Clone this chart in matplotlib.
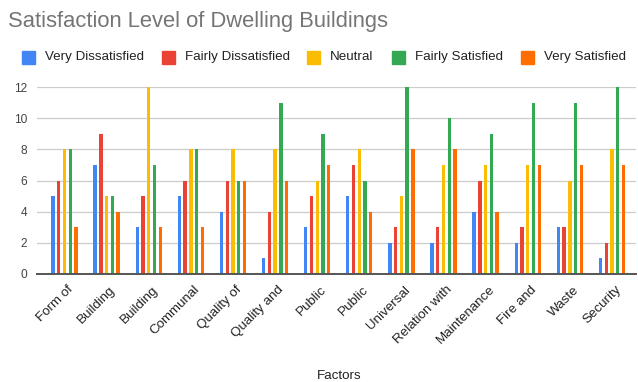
import matplotlib
matplotlib.use("Agg")
import matplotlib.pyplot as plt
from matplotlib.patches import Rectangle
from matplotlib.transforms import ScaledTranslation
import numpy as np

plt.rcParams['font.family'] = ['Liberation Sans', 'DejaVu Sans']

categories = ["Form of", "Building", "Building", "Communal", "Quality of", "Quality and",
              "Public", "Public", "Universal", "Relation with", "Maintenance", "Fire and",
              "Waste", "Security"]
series_names = ["Very Dissatisfied", "Fairly Dissatisfied", "Neutral", "Fairly Satisfied", "Very Satisfied"]
very_dissatisfied = [5, 7, 3, 5, 4, 1, 3, 5, 2, 2, 4, 2, 3, 1]
fairly_dissatisfied = [6, 9, 5, 6, 6, 4, 5, 7, 3, 3, 6, 3, 3, 2]
neutral = [8, 5, 12, 8, 8, 8, 6, 8, 5, 7, 7, 7, 6, 8]
fairly_satisfied = [8, 5, 7, 8, 6, 11, 9, 6, 12, 10, 9, 11, 11, 12]
very_satisfied = [3, 4, 3, 3, 6, 6, 7, 4, 8, 8, 4, 7, 7, 7]
y_ticks = [0, 2, 4, 6, 8, 10, 12]

series = [very_dissatisfied, fairly_dissatisfied, neutral, fairly_satisfied, very_satisfied]
colors = ["#4285F4", "#EA4335", "#FBBC04", "#34A853", "#FF6D01"]

W, H = 638, 382
fig = plt.figure(figsize=(W / 100, H / 100), dpi=100)
ax = fig.add_axes([37 / W, (H - 274) / H, (636 - 37) / W, (274 - 87) / H])

x = np.arange(len(categories))
step = 0.1365
width = 0.08
for i, (vals, c) in enumerate(zip(series, colors)):
    ax.bar(x + (i - 2) * step, vals, width=width, color=c, zorder=3, linewidth=0)

ax.set_xlim(-0.653, 13.57)
ax.set_ylim(0, 12)
ax.set_yticks(y_ticks)
ax.set_yticklabels([str(v) for v in y_ticks], fontsize=8.6, color="#444444")
ax.yaxis.grid(True, color="#cccccc", linewidth=0.9, zorder=0)
ax.set_axisbelow(True)
for s in ["top", "right", "left"]:
    ax.spines[s].set_visible(False)
ax.spines["bottom"].set_color("#555555")
ax.spines["bottom"].set_linewidth(1.4)
ax.spines["bottom"].set_zorder(4)
ax.tick_params(axis="both", length=0)
ax.tick_params(axis="y", pad=7)
ax.set_xticks(x)
ax.set_xticklabels(categories, rotation=45, ha="right", va="center",
                   rotation_mode="anchor", fontsize=9.6, color="#222222")
ax.tick_params(axis="x", pad=10)
shift = ScaledTranslation(7 / 100, 0, fig.dpi_scale_trans)
for lab in ax.get_xticklabels():
    lab.set_transform(lab.get_transform() + shift)

fig.text(339 / W, 1 - 376 / H, "Factors", fontsize=9.6, color="#222222",
         ha="center", va="center")

fig.text(8 / W, 1 - 22 / H, "Satisfaction Level of Dwelling Buildings", fontsize=15.8,
         color="#757575", va="center", ha="left")

legend_x = [22, 162, 307, 392, 521]
ly = 57
for lx, name, c in zip(legend_x, series_names, colors):
    fig.patches.append(Rectangle((lx / W, 1 - (ly + 6.5) / H), 13 / W, 13 / H,
                                 transform=fig.transFigure, color=c, figure=fig))
    fig.text((lx + 23) / W, 1 - ly / H, name, fontsize=9.6, color="#222222",
             va="center", ha="left")

fig.savefig("out.png", dpi=100)
